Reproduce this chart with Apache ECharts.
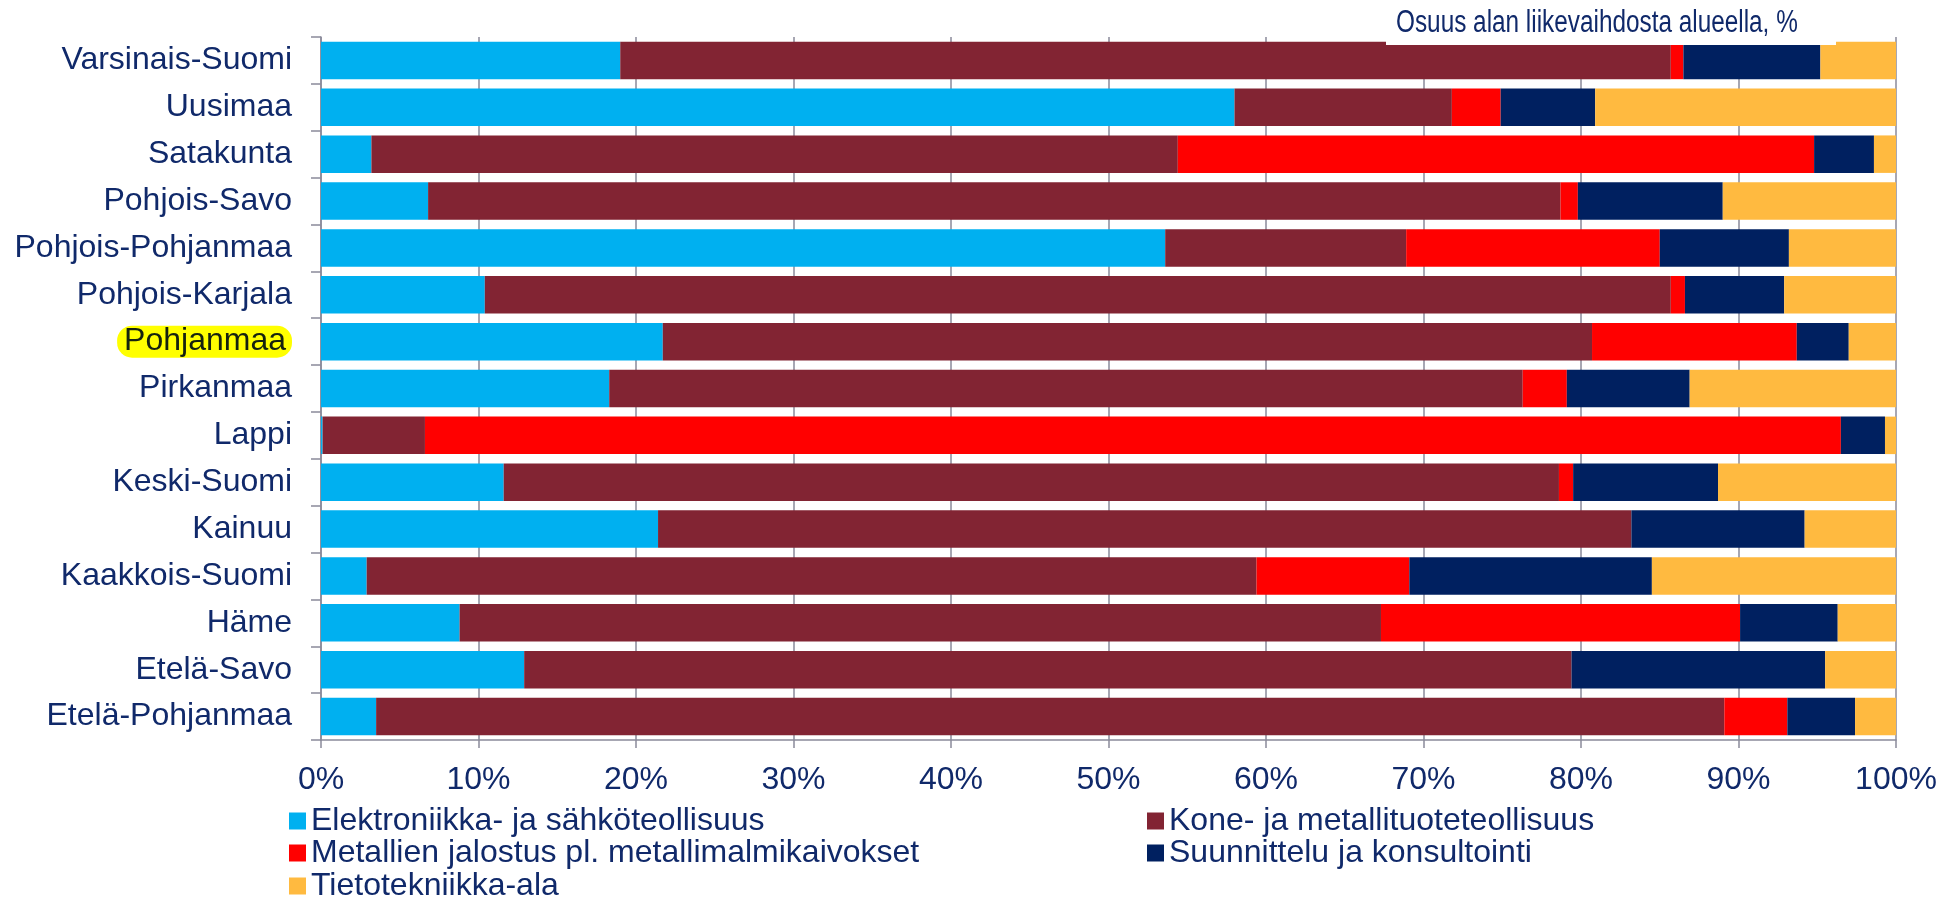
<!DOCTYPE html>
<html>
<head>
<meta charset="utf-8">
<script src="https://cdn.jsdelivr.net/npm/echarts@6/dist/echarts.min.js"></script>
<style>
html,body{margin:0;padding:0;background:#fff;}
#chart{width:1957px;height:897px;}
</style>
</head>
<body>
<div id="chart"></div>
<script>
const regions = ['Varsinais-Suomi','Uusimaa','Satakunta','Pohjois-Savo','Pohjois-Pohjanmaa','Pohjois-Karjala','Pohjanmaa','Pirkanmaa','Lappi','Keski-Suomi','Kainuu','Kaakkois-Suomi','Häme','Etelä-Savo','Etelä-Pohjanmaa'];
const seriesNames = ['Elektroniikka- ja sähköteollisuus','Kone- ja metallituoteteollisuus','Metallien jalostus pl. metallimalmikaivokset','Suunnittelu ja konsultointi','Tietotekniikka-ala'];
const elektroniikka = [19.0, 58.0, 3.2, 6.8, 53.6, 10.4, 21.7, 18.3, 0.1, 11.6, 21.4, 2.9, 8.8, 12.9, 3.5];
const kone          = [66.7, 13.8, 51.2, 71.9, 15.3, 75.3, 59.0, 58.0, 6.5, 67.0, 61.8, 56.5, 58.5, 66.5, 85.6];
const metallien     = [0.8, 3.1, 40.4, 1.1, 16.1, 0.9, 13.0, 2.8, 89.9, 0.9, 0, 9.7, 22.8, 0, 4.0];
const suunnittelu   = [8.7, 6.0, 3.8, 9.2, 8.2, 6.3, 3.3, 7.8, 2.8, 9.2, 11.0, 15.4, 6.2, 16.1, 4.3];
const tietotekniikka= [4.8, 19.1, 1.4, 11.0, 6.8, 7.1, 3.0, 13.1, 0.7, 11.3, 5.8, 15.5, 3.7, 4.5, 2.6];
const highlighted = 'Pohjanmaa';
const titleText = 'Osuus alan liikevaihdosta alueella, %';

const colors = ['#00b0f0','#822433','#ff0000','#002060','#ffba40'];
const navy = '#10296a';
const gridCol = '#8a8a9a';
const font = "'Liberation Sans', Arial, sans-serif";
const values = [elektroniikka, kone, metallien, suunnittelu, tietotekniikka];

// legend placement: [series index, left, top]
const legendSlots = [[0, 289, 805], [2, 289, 837], [4, 289, 870], [1, 1147, 805], [3, 1147, 837]];

const chart = echarts.init(document.getElementById('chart'));
const option = {
  animation: false,
  textStyle: {fontFamily: font},
  grid: {left: 321, right: 61, top: 37, bottom: 157},
  xAxis: {
    type: 'value', min: 0, max: 100, interval: 10,
    axisLine: {show: true, lineStyle: {color: gridCol, width: 1.5}},
    axisTick: {show: true, length: 8, lineStyle: {color: gridCol, width: 1.5}},
    splitLine: {show: true, lineStyle: {color: gridCol, width: 1.5}},
    axisLabel: {formatter: '{value}%', fontSize: 32, color: navy, margin: 24, fontFamily: font}
  },
  yAxis: {
    type: 'category', data: regions, inverse: true,
    axisLine: {show: true, lineStyle: {color: gridCol, width: 1.5}},
    axisTick: {show: true, length: 10, interval: 0, lineStyle: {color: gridCol, width: 1.5}},
    axisLabel: {
      fontSize: 32, color: navy, margin: 29, fontFamily: font, interval: 0,
      formatter: v => v === highlighted ? '{hl|' + v + '}' : v,
      rich: {hl: {backgroundColor: '#ffff00', borderRadius: 15, padding: [0, 6, 0, 7], color: '#15220f', fontSize: 32, lineHeight: 31, fontFamily: font}}
    }
  },
  legend: legendSlots.map(([i, l, t]) => ({
    data: [seriesNames[i]], orient: 'horizontal', left: l, top: t, padding: 0,
    itemWidth: 17, itemHeight: 17, icon: 'rect',
    textStyle: {fontSize: 32, color: navy, fontFamily: font}
  })),
  graphic: [
    {type: 'rect', left: 1386, top: 0, z: 100, shape: {width: 450, height: 45}, style: {fill: '#fff'}},
    {type: 'text', x: 1396, y: 23, scaleX: 0.785, z: 101, style: {text: titleText, fill: navy, fontSize: 31, fontFamily: font, verticalAlign: 'middle', align: 'left'}}
  ],
  series: seriesNames.map((name, i) => ({
    name, type: 'bar', stack: 'total', barCategoryGap: '20%',
    itemStyle: {color: colors[i]},
    data: values[i]
  }))
};
chart.setOption(option);
</script>
</body>
</html>
